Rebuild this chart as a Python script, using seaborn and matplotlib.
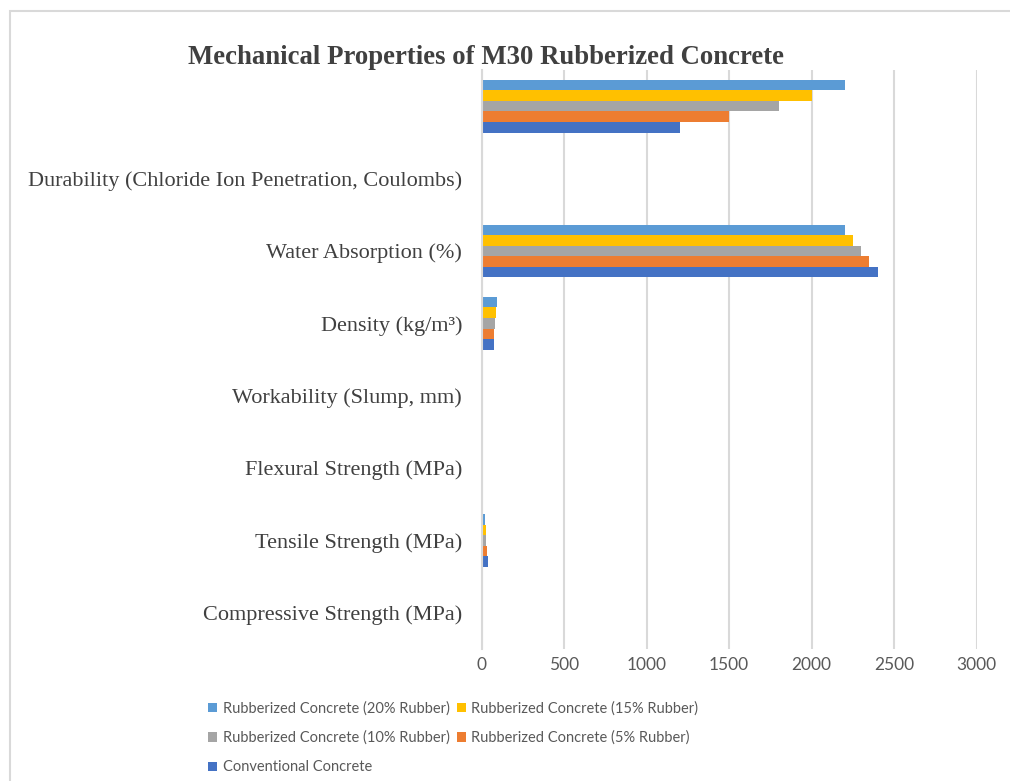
import matplotlib
matplotlib.use("Agg")
import matplotlib.pyplot as plt
from matplotlib.patches import Patch, Rectangle
import seaborn as sns
import pandas as pd

categories = [
    "",
    "Durability (Chloride Ion Penetration, Coulombs)",
    "Water Absorption (%)",
    "Density (kg/m³)",
    "Workability (Slump, mm)",
    "Flexural Strength (MPa)",
    "Tensile Strength (MPa)",
    "Compressive Strength (MPa)",
]
series_names = [
    "Rubberized Concrete (20% Rubber)",
    "Rubberized Concrete (15% Rubber)",
    "Rubberized Concrete (10% Rubber)",
    "Rubberized Concrete (5% Rubber)",
    "Conventional Concrete",
]
rubber20 = [2200, 0, 2200, 95, 0, 0, 20, 0]
rubber15 = [2000, 0, 2250, 88, 0, 0, 28, 0]
rubber10 = [1800, 0, 2300, 80, 0, 0, 30, 0]
rubber5 = [1500, 0, 2350, 75, 0, 0, 35, 0]
conventional = [1200, 0, 2400, 75, 0, 0, 38, 0]
colors = ["#5B9BD5", "#FFC000", "#A5A5A5", "#ED7D31", "#4472C4"]
x_ticks = [0, 500, 1000, 1500, 2000, 2500, 3000]

rows = []
for name, vals in zip(series_names, [rubber20, rubber15, rubber10, rubber5, conventional]):
    for c, v in zip(categories, vals):
        rows.append({"Property": c, "Series": name, "Value": v})
df = pd.DataFrame(rows)

sns.set_theme(style="white")
fig = plt.figure(figsize=(10.1, 7.81), dpi=100)
ax = fig.add_axes([481.5 / 1010, 1 - 649 / 781, (976.7 - 481.5) / 1010, (649 - 70) / 781])

sns.barplot(data=df, y="Property", x="Value", hue="Series", order=categories,
            hue_order=series_names, palette=colors, orient="h", width=0.73,
            linewidth=0, saturation=1, ax=ax, legend=False)

ax.set_xlim(0, 3000)
ax.set_xticks(x_ticks)
ax.set_xticklabels([str(t) for t in x_ticks], fontfamily="Lato", fontsize=12.5, color="#595959")
ax.set_yticks(range(len(categories)))
ax.set_yticklabels(categories, fontfamily="Liberation Serif", fontsize=16, color="#404040")
ax.tick_params(axis="y", length=0, pad=14)
ax.tick_params(axis="x", length=0, pad=6)
ax.set_xlabel("")
ax.set_ylabel("")
ax.grid(axis="x", color="#D9D9D9", linewidth=1.5)
ax.grid(axis="y", visible=False)
ax.set_axisbelow(True)
for s in ["top", "right", "bottom"]:
    ax.spines[s].set_visible(False)
ax.spines["left"].set_color("#D9D9D9")
ax.spines["left"].set_linewidth(1.5)

fig.text(486 / 1010, 1 - 57 / 781, "Mechanical Properties of M30 Rubberized Concrete",
         ha="center", va="center", fontfamily="Liberation Serif", fontweight="bold",
         fontsize=19.3, color="#404040")

border = Rectangle((10 / 1010, -0.2), 1.5, (1 - 11 / 781) + 0.2, transform=fig.transFigure,
                   fill=False, edgecolor="#D9D9D9", linewidth=1.5)
fig.patches.append(border)

handles = [Patch(facecolor=c, edgecolor="none") for c in colors]
order = [0, 2, 4, 1, 3]
leg = fig.legend([handles[i] for i in order], [series_names[i] for i in order],
                 ncol=2, loc="upper left", bbox_to_anchor=(195 / 1010, 1 - 688 / 781),
                 frameon=False, handlelength=0.6, handleheight=0.6, handletextpad=0.4,
                 columnspacing=0.5, labelspacing=1.05,
                 prop={"family": "Lato", "size": 10.5})
for t in leg.get_texts():
    t.set_color("#595959")

fig.savefig("out.png", dpi=100)
